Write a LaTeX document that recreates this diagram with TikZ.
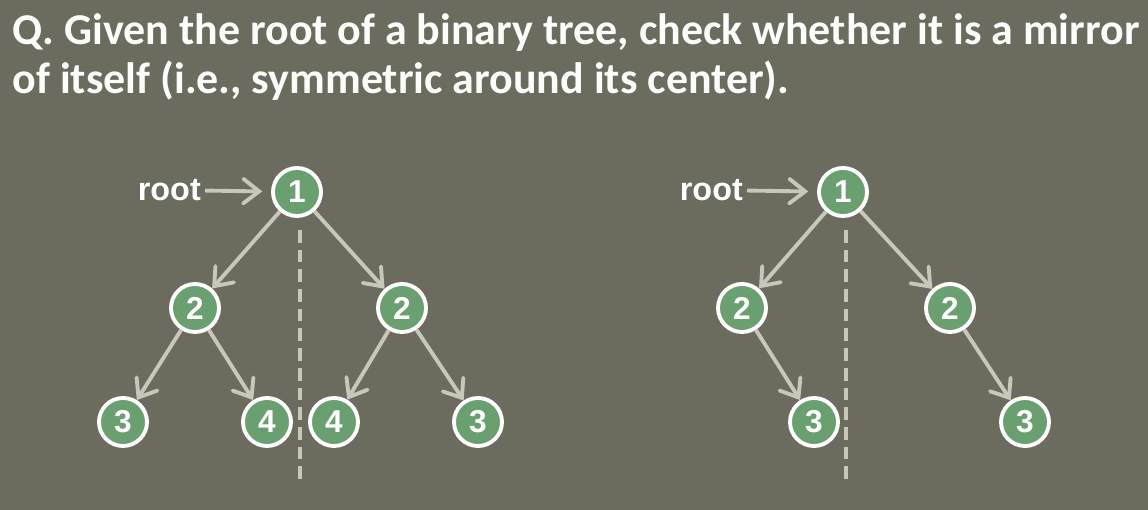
\documentclass[tikz,border=0pt]{standalone}
\usepackage{fontspec}
\setmainfont{Carlito}
\setsansfont{Liberation Sans}
\usetikzlibrary{arrows.meta}
\definecolor{fondo}{HTML}{6B6C5E}
\definecolor{verde}{HTML}{6A9F70}
\definecolor{gris}{HTML}{C9C7BA}
\tikzset{>={Straight Barb[length=4.5pt,width=7pt,line cap=round]}}

\begin{document}
\begin{tikzpicture}[x=0.01cm,y=-0.01cm,
	nodo/.style={circle,draw=white,fill=verde,line width=1.1pt,minimum size=0.48cm,inner sep=0pt,text=white,font=\sffamily\bfseries\fontsize{9}{9}\selectfont},
	flecha/.style={->,draw=gris,line width=1.1pt},
	raiz/.style={text=white,inner sep=1pt,anchor=east,font=\sffamily\bfseries\fontsize{9.2}{10}\selectfont},
	eje/.style={gris,line width=1.1pt,dash pattern=on 3.6pt off 2pt},
	titulo/.style={anchor=base west,inner sep=0pt,text=white!95!gris,font=\bfseries\fontsize{12.5}{14}\selectfont}]
	\fill[fondo] (0,0) rectangle (1148,510);
	\useasboundingbox (0,0) rectangle (1148,510);
	\node[titulo] (linea1) at (12,45) {Q. Given the root of a binary tree, check whether it is a mirror};
	\node[titulo] (linea2) at (12,94) {of itself (i.e., symmetric around its center).};
	% arbol simetrico
	\node[nodo] (a1) at (297,192) {1};
	\node[nodo] (a2i) at (195,308) {2};
	\node[nodo] (a2d) at (402,308) {2};
	\node[nodo] (a3i) at (123,422) {3};
	\node[nodo] (a4i) at (267,422) {4};
	\node[nodo] (a4d) at (334,422) {4};
	\node[nodo] (a3d) at (478,422) {3};
	\draw[flecha] (a1)--(a2i);
	\draw[flecha] (a1)--(a2d);
	\draw[flecha] (a2i)--(a3i);
	\draw[flecha] (a2i)--(a4i);
	\draw[flecha] (a2d)--(a4d);
	\draw[flecha] (a2d)--(a3d);
	\node[raiz] (raizA) at (205,190) {root};
	\draw[flecha,shorten >=2.5pt] (raizA)--(a1);
	\coordinate (ejeA1) at (300,230);
	\coordinate (ejeA2) at (300,482);
	\draw[eje] (ejeA1)--(ejeA2);
	% arbol no simetrico
	\node[nodo] (b1) at (843,192) {1};
	\node[nodo] (b2i) at (742,308) {2};
	\node[nodo] (b2d) at (950,308) {2};
	\node[nodo] (b3i) at (814,422) {3};
	\node[nodo] (b3d) at (1025,422) {3};
	\draw[flecha] (b1)--(b2i);
	\draw[flecha] (b1)--(b2d);
	\draw[flecha] (b2i)--(b3i);
	\draw[flecha] (b2d)--(b3d);
	\node[raiz] (raizB) at (747,190) {root};
	\draw[flecha,shorten >=2.5pt] (raizB)--(b1);
	\coordinate (ejeB1) at (846,230);
	\coordinate (ejeB2) at (846,480);
	\draw[eje] (ejeB1)--(ejeB2);
\end{tikzpicture}
\end{document}
